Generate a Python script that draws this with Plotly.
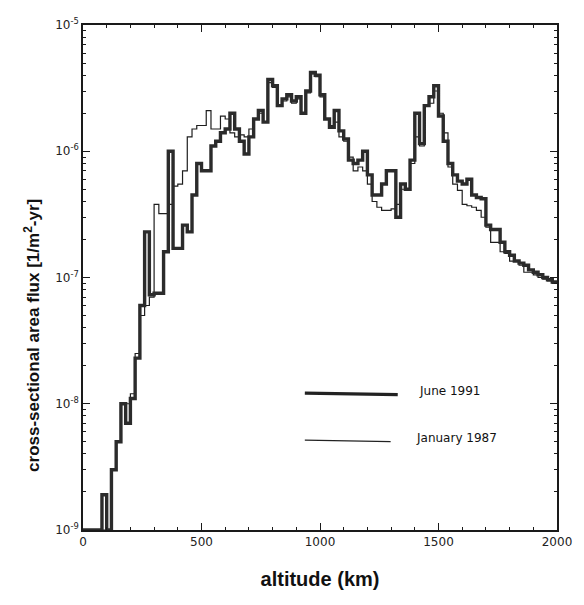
import plotly.graph_objects as go

# Altitude bins (left edges, km), 20 km wide
bin_width = 20
altitude = list(range(0, 2000, bin_width))

# Cross-sectional area flux [1/m^2-yr] per altitude bin; 0 = no flux in bin
flux_june_1991 = [
    0, 0, 0, 0, 1.9e-9, 0, 3e-9, 5e-9, 1.0e-8, 7e-9,
    1.1e-8, 2.3e-8, 6e-8, 2.3e-7, 7.3e-8, 7.5e-8, 7.5e-8, 1.6e-7, 1.0e-6, 1.7e-7,
    1.7e-7, 2.6e-7, 2.3e-7, 4.5e-7, 8e-7, 7e-7, 7e-7, 1.1e-6, 1.2e-6, 1.4e-6,
    1.5e-6, 2.0e-6, 1.5e-6, 1.2e-6, 9.5e-7, 1.3e-6, 1.8e-6, 2.1e-6, 1.7e-6, 3.7e-6,
    3.3e-6, 2.3e-6, 2.6e-6, 2.8e-6, 2.5e-6, 2.7e-6, 2.0e-6, 3.0e-6, 4.2e-6, 4.0e-6,
    2.8e-6, 1.8e-6, 1.55e-6, 2.1e-6, 1.45e-6, 1.25e-6, 8.5e-7, 8e-7, 8.5e-7, 1.0e-6,
    6.5e-7, 4.5e-7, 4.5e-7, 5.5e-7, 7e-7, 7e-7, 3e-7, 5.5e-7, 5e-7, 8.5e-7,
    2.0e-6, 1.15e-6, 2.3e-6, 2.7e-6, 3.3e-6, 1.9e-6, 1.2e-6, 8e-7, 6.5e-7, 5.8e-7,
    5.5e-7, 6e-7, 4.5e-7, 4.3e-7, 4.2e-7, 2.6e-7, 2.4e-7, 2.4e-7, 1.9e-7, 1.6e-7,
    1.5e-7, 1.35e-7, 1.3e-7, 1.25e-7, 1.15e-7, 1.1e-7, 1.05e-7, 1.0e-7, 9.6e-8, 9.2e-8,
]

flux_january_1987 = [
    0, 0, 0, 0, 0, 0, 3e-9, 5e-9, 1.0e-8, 1.0e-8,
    1.2e-8, 2.5e-8, 5e-8, 6e-8, 7e-8, 3.8e-7, 3.2e-7, 3.2e-7, 3.8e-7, 5.3e-7,
    5.5e-7, 7e-7, 1.3e-6, 1.5e-6, 1.6e-6, 1.6e-6, 2.1e-6, 1.5e-6, 1.5e-6, 1.9e-6,
    1.8e-6, 1.4e-6, 1.3e-6, 1.35e-6, 1.3e-6, 1.5e-6, 1.8e-6, 2.0e-6, 1.7e-6, 3.5e-6,
    3.2e-6, 2.3e-6, 2.5e-6, 2.7e-6, 2.4e-6, 2.6e-6, 2.0e-6, 2.9e-6, 4.1e-6, 3.9e-6,
    2.7e-6, 1.8e-6, 1.6e-6, 1.7e-6, 1.3e-6, 1.2e-6, 9e-7, 7e-7, 7.5e-7, 7e-7,
    5.5e-7, 4e-7, 3.6e-7, 3.4e-7, 3.4e-7, 3.5e-7, 3.8e-7, 5e-7, 5e-7, 8e-7,
    1.3e-6, 1.1e-6, 2.3e-6, 2.4e-6, 3.0e-6, 2.0e-6, 1.4e-6, 7.5e-7, 5.5e-7, 4.9e-7,
    3.8e-7, 3.7e-7, 3.6e-7, 3.4e-7, 3.0e-7, 2.5e-7, 1.9e-7, 1.9e-7, 1.6e-7, 1.55e-7,
    1.35e-7, 1.35e-7, 1.25e-7, 1.1e-7, 1.1e-7, 1.05e-7, 1.0e-7, 9.7e-8, 9.4e-8, 9e-8,
]

y_tick_values = [1e-9, 1e-8, 1e-7, 1e-6, 1e-5]
y_tick_labels = ["10<sup>-9</sup>", "10<sup>-8</sup>", "10<sup>-7</sup>",
                 "10<sup>-6</sup>", "10<sup>-5</sup>"]
x_tick_values = [0, 500, 1000, 1500, 2000]

legend_labels = ["June 1991", "January 1987"]

# Empty bins sit on the bottom of the log axis
FLOOR = 1e-9

# Minor log ticks: 2..9 within each decade
y_minor_values = [m * 10.0 ** e for e in range(-9, -5) for m in range(2, 10)]


def step_series(values):
    xs = altitude + [altitude[-1] + bin_width]
    ys = [v if v > 0 else FLOOR for v in values]
    ys = ys + [ys[-1]]
    return xs, ys


fig = go.Figure()

x1, y1 = step_series(flux_january_1987)
fig.add_trace(go.Scatter(x=x1, y=y1, mode="lines", line_shape="hv",
                         line=dict(color="#1e1e1e", width=1.2),
                         name=legend_labels[1], showlegend=False))

x2, y2 = step_series(flux_june_1991)
fig.add_trace(go.Scatter(x=x2, y=y2, mode="lines", line_shape="hv",
                         line=dict(color="#2b2b2b", width=3.4),
                         name=legend_labels[0], showlegend=False))

key_font = dict(family="DejaVu Sans, Liberation Sans", size=12, color="#111")

# Hand-placed key inside the plot area
fig.add_shape(type="line", xref="paper", yref="paper",
              x0=0.468, x1=0.664, y0=0.271, y1=0.268,
              line=dict(color="#222", width=3.2))
fig.add_shape(type="line", xref="paper", yref="paper",
              x0=0.468, x1=0.649, y0=0.178, y1=0.175,
              line=dict(color="#222", width=1.3))
fig.add_annotation(xref="paper", yref="paper", x=0.705, y=0.275,
                   xanchor="left", yanchor="middle", showarrow=False,
                   text=legend_labels[0], font=key_font)
fig.add_annotation(xref="paper", yref="paper", x=0.699, y=0.182,
                   xanchor="left", yanchor="middle", showarrow=False,
                   text=legend_labels[1], font=key_font)

# Rotated y-axis title
fig.add_annotation(xref="paper", yref="paper", x=-0.109, y=0.385,
                   xanchor="center", yanchor="middle", showarrow=False,
                   textangle=-90,
                   text="<b>cross-sectional area flux [1/m<sup>2</sup>-yr]</b>",
                   font=dict(family="Liberation Sans, Arial", size=17, color="#111"))

axis_common = dict(
    showline=True, linecolor="#1a1a1a", linewidth=1.6, mirror="ticks",
    ticks="inside", tickcolor="#1a1a1a", showgrid=False, zeroline=False,
    tickfont=dict(family="DejaVu Sans, Liberation Sans", size=12, color="#222"),
)

fig.update_xaxes(
    range=[0, 2000], tickvals=x_tick_values, ticklen=7, tickwidth=1.2,
    minor=dict(dtick=100, ticks="inside", ticklen=3, tickcolor="#1a1a1a"),
    title=dict(text="<b>altitude (km)</b>", standoff=24,
               font=dict(family="Liberation Sans, Arial", size=20, color="#111")),
    **axis_common,
)
fig.update_yaxes(
    type="log", range=[-9, -5], tickvals=y_tick_values, ticktext=y_tick_labels,
    ticklen=7, tickwidth=1.2,
    minor=dict(tickvals=y_minor_values, ticks="inside", ticklen=3,
               tickcolor="#1a1a1a", showgrid=False),
    **axis_common,
)

fig.update_layout(
    width=584, height=605,
    margin=dict(l=83, r=16, t=25, b=75),
    paper_bgcolor="white", plot_bgcolor="white",
    showlegend=False,
)

fig.write_html("out.html")
